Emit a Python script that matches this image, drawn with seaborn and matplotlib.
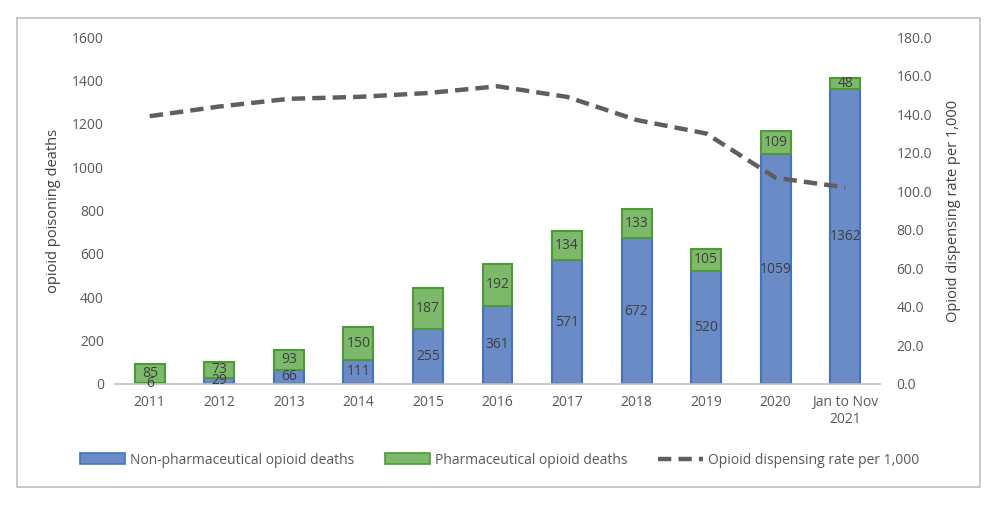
import matplotlib
matplotlib.use("Agg")
import matplotlib.pyplot as plt
import seaborn as sns
import numpy as np
from matplotlib.patches import Rectangle, Patch
from matplotlib.lines import Line2D

categories = ["2011", "2012", "2013", "2014", "2015", "2016", "2017", "2018",
              "2019", "2020", "Jan to Nov\n2021"]
non_pharm = [6, 29, 66, 111, 255, 361, 571, 672, 520, 1059, 1362]
pharm = [85, 73, 93, 150, 187, 192, 134, 133, 105, 109, 48]
dispensing_rate = [139, 144, 148, 149, 151, 154.5, 149, 137, 130, 107, 102]

sns.set_theme(style="white")
plt.rcParams['font.family'] = ['Open Sans', 'DejaVu Sans']

fig = plt.figure(figsize=(10, 5.09), dpi=100)
ax = fig.add_axes([0.115, 0.2456, 0.765, 0.6814])

blue_fill = "#6A8BC6"
blue_edge = "#4472C4"
green_fill = "#7DB96A"
green_edge = "#4E9A36"
text_col = "#595959"

sns.barplot(x=categories, y=non_pharm, color=blue_fill, edgecolor=blue_edge,
            linewidth=1.5, width=0.43, saturation=1, ax=ax, order=categories)
sns.barplot(x=categories, y=pharm, bottom=non_pharm, color=green_fill, edgecolor=green_edge,
            linewidth=1.5, width=0.43, saturation=1, ax=ax, order=categories)

for cont in ax.containers:
    ax.bar_label(cont, label_type="center", fontsize=10, color="#404040")

ax.set_ylim(0, 1600)
ax.set_yticks(range(0, 1601, 200))
ax.set_xlim(-0.5, len(categories) - 0.5)
ax.set_ylabel("opioid poisoning deaths", fontsize=10.5, color="#404040", labelpad=8)
ax.set_xlabel("")
for s in ["top", "right", "left"]:
    ax.spines[s].set_visible(False)
ax.spines["bottom"].set_color("#BFBFBF")
ax.spines["bottom"].set_linewidth(1.2)
ax.tick_params(axis="both", length=0, labelsize=10, labelcolor=text_col, pad=8)

ax2 = ax.twinx()
sns.lineplot(x=np.arange(len(categories)), y=dispensing_rate, ax=ax2, color="#5F5F5F",
             linewidth=3.2, linestyle=(0, (3, 1.6)))
ax2.set_ylim(0, 180)
ax2.set_yticks(range(0, 181, 20))
ax2.set_yticklabels([f"{v:.1f}" for v in range(0, 181, 20)])
ax2.set_xlim(-0.5, len(categories) - 0.5)
for s in ["top", "right", "left", "bottom"]:
    ax2.spines[s].set_visible(False)
ax2.tick_params(axis="y", length=0, labelsize=10, labelcolor=text_col, pad=12)
ax2.set_ylabel("Opioid dispensing rate per 1,000", fontsize=10.5, color="#404040", labelpad=10)

handles = [
    Patch(facecolor=blue_fill, edgecolor=blue_edge, linewidth=1.2),
    Patch(facecolor=green_fill, edgecolor=green_edge, linewidth=1.2),
    Line2D([0], [0], color="#5F5F5F", linewidth=3.2, linestyle=(0, (3, 1.6))),
]
labels = ["Non-pharmaceutical opioid deaths", "Pharmaceutical opioid deaths",
          "Opioid dispensing rate per 1,000"]
fig.legend(handles, labels, loc="center", bbox_to_anchor=(0.5, 0.096), ncol=3,
           frameon=False, fontsize=10, labelcolor=text_col, handlelength=3.2,
           handleheight=0.8, columnspacing=2.2, handletextpad=0.4)

fig.patches.append(Rectangle((0.017, 0.043), 0.963, 0.922, transform=fig.transFigure,
                             fill=False, edgecolor="#BFBFBF", linewidth=1.2))

fig.savefig("out.png", dpi=100)
